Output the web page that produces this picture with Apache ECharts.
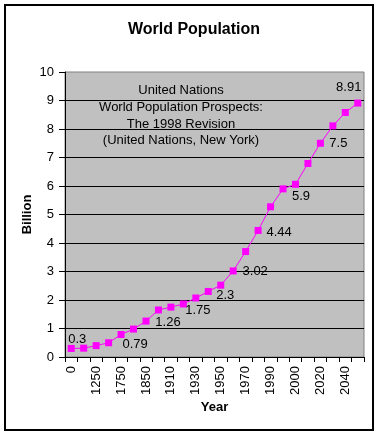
<!DOCTYPE html>
<html>
<head>
<meta charset="utf-8">
<script src="https://cdn.jsdelivr.net/npm/echarts@6/dist/echarts.min.js"></script>
<style>html,body{margin:0;padding:0;background:#fff;}#c{width:381px;height:437px;}</style>
</head>
<body>
<div id="c"></div>
<script>
var years = ['0','1000','1250','1500','1750','1800','1850','1900','1910','1920','1930','1940','1950','1960','1970','1980','1990','1998','2000','2010','2020','2030','2040','2050'];
var population = [0.3,0.31,0.4,0.5,0.79,0.98,1.26,1.65,1.75,1.86,2.07,2.3,2.52,3.02,3.7,4.44,5.27,5.9,6.06,6.79,7.5,8.11,8.58,8.91];
var labeledPoints = [0,4,6,8,11,13,15,17,20,23];
var noteLines = ['United Nations','World Population Prospects:','The 1998 Revision','(United Nations, New York)'];

var FONT = 'Liberation Sans, Arial, sans-serif';
var labelOffsets = {0:[6,-9],4:[14,10],6:[22,1],8:[27,3],11:[17,4],13:[22,0],15:[21,2],17:[18,8],20:[18,0],23:[-9,-16]};

var seriesData = population.map(function(v, i){
  var item = {value: v};
  if (labeledPoints.indexOf(i) >= 0) {
    item.label = {show: true, position: 'inside', offset: labelOffsets[i], formatter: String(v)};
  }
  return item;
});

var chart = echarts.init(document.getElementById('c'));
chart.setOption({
  animation: false,
  backgroundColor: '#fff',
  title: {
    text: 'World Population', left: 189, top: 17, textAlign: 'center',
    textStyle: {fontFamily: FONT, fontSize: 16, fontWeight: 'bold', color: '#000'}
  },
  grid: {left: 65, right: 17, top: 72, bottom: 80, show: true, backgroundColor: '#C0C0C0', borderColor: '#808080', borderWidth: 1},
  xAxis: {
    type: 'category', data: years, boundaryGap: true,
    name: 'Year', nameLocation: 'middle', nameGap: 44, nameMoveOverlap: false,
    nameTextStyle: {fontFamily: FONT, fontSize: 13, fontWeight: 'bold', color: '#000'},
    axisLine: {lineStyle: {color: '#000', width: 1}},
    axisTick: {show: true, interval: 0, length: 5, lineStyle: {color: '#000'}},
    axisLabel: {interval: 1, rotate: 90, margin: 9, fontFamily: FONT, fontSize: 13, color: '#000'},
    splitLine: {show: false}
  },
  yAxis: {
    type: 'value', min: 0, max: 10, interval: 1,
    name: 'Billion', nameLocation: 'middle', nameGap: 31, nameRotate: 90, nameMoveOverlap: false,
    nameTextStyle: {fontFamily: FONT, fontSize: 13, fontWeight: 'bold', color: '#000'},
    axisLine: {show: true, lineStyle: {color: '#000', width: 1}},
    axisTick: {show: true, length: 6, lineStyle: {color: '#000'}},
    axisLabel: {margin: 11, fontFamily: FONT, fontSize: 13, color: '#000'},
    splitLine: {show: true, showMaxLine: false, lineStyle: {color: '#000', width: 1}}
  },
  series: [{
    type: 'line', data: seriesData,
    symbol: 'rect', symbolSize: 7,
    lineStyle: {color: '#FF00FF', width: 1},
    itemStyle: {color: '#FF00FF'},
    label: {show: false, fontFamily: FONT, fontSize: 13, color: '#000'},
    z: 3
  }],
  graphic: [
    {type: 'rect', shape: {x: 5, y: 5, width: 368, height: 425}, style: {fill: null, stroke: '#000', lineWidth: 2}, z: 100},
    {type: 'text', x: 181, y: 82, z: 10,
     style: {text: noteLines.join('\n'), align: 'center', verticalAlign: 'top', font: '13px Liberation Sans', lineHeight: 16.8, fill: '#000'}}
  ]
});
</script>
</body>
</html>
